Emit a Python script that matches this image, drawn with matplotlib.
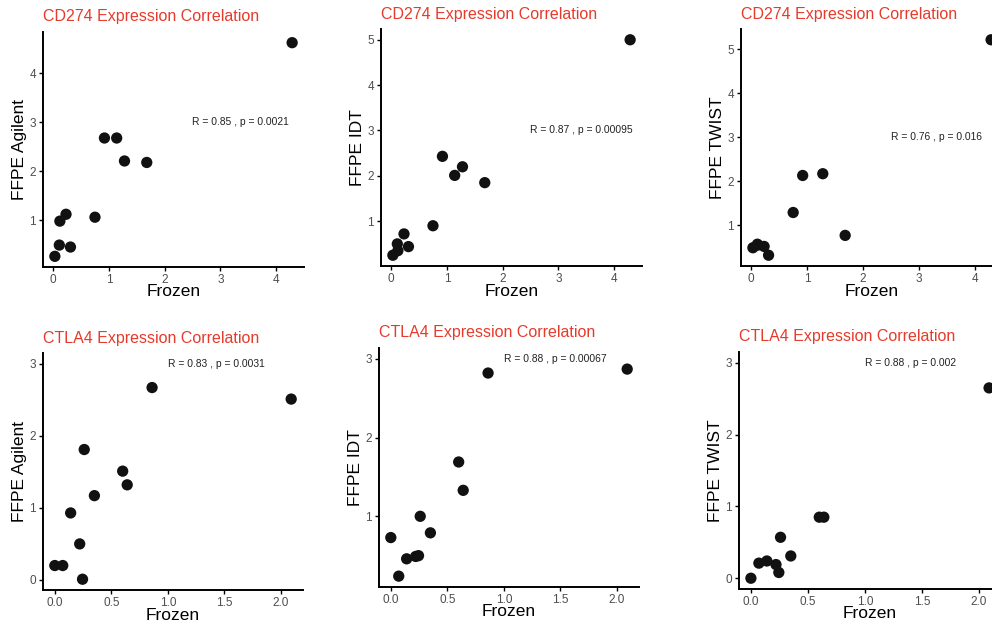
import numpy as np
import matplotlib
matplotlib.use("Agg")
import matplotlib.pyplot as plt

plt.rcParams['font.family'] = ['Liberation Sans', 'DejaVu Sans']

# CD274 frozen vs FFPE platforms
cd274_frozen = [0.03, 0.11, 0.12, 0.23, 0.31, 0.75, 0.92, 1.14, 1.28, 1.68, 4.29]
cd274_agilent = [0.26, 0.49, 0.98, 1.12, 0.45, 1.06, 2.68, 2.68, 2.21, 2.18, 4.63]
cd274_idt = [0.25, 0.50, 0.35, 0.72, 0.44, 0.90, 2.43, 2.01, 2.20, 1.85, 5.00]
# no TWIST value for the sample at frozen 1.14
cd274_twist_frozen = [0.03, 0.11, 0.12, 0.23, 0.31, 0.75, 0.92, 1.28, 1.68, 4.29]
cd274_twist = [0.49, 0.57, 0.55, 0.52, 0.32, 1.29, 2.13, 2.17, 0.77, 5.21]

# CTLA4 frozen vs FFPE platforms
ctla4_frozen = [0.00, 0.07, 0.14, 0.22, 0.245, 0.26, 0.35, 0.60, 0.64, 0.86, 2.09]
ctla4_agilent = [0.20, 0.20, 0.93, 0.50, 0.01, 1.81, 1.17, 1.51, 1.32, 2.67, 2.51]
ctla4_idt = [0.73, 0.24, 0.46, 0.49, 0.50, 1.00, 0.79, 1.69, 1.33, 2.82, 2.87]
# no TWIST value for the sample at frozen 0.86
ctla4_twist_frozen = [0.00, 0.07, 0.14, 0.22, 0.245, 0.26, 0.35, 0.60, 0.64, 2.09]
ctla4_twist = [0.00, 0.21, 0.24, 0.19, 0.08, 0.57, 0.31, 0.85, 0.85, 2.65]

cor_labels = [
    "R = 0.85 , p = 0.0021", "R = 0.87 , p = 0.00095", "R = 0.76 , p = 0.016",
    "R = 0.83 , p = 0.0031", "R = 0.88 , p = 0.00067", "R = 0.88 , p = 0.002",
]

TITLE_RED = '#E53B2C'
TICK_GREY = '#4D4D4D'
W, H = 992, 626

panels = [
    # (x, y, title, ylabel, label pos, axes box in px: left, top, right, bottom)
    (cd274_frozen, cd274_agilent, "CD274 Expression Correlation", "FFPE Agilent", (2.5, 3), (43, 32, 304, 267)),
    (cd274_frozen, cd274_idt, "CD274 Expression Correlation", "FFPE IDT", (2.5, 3), (381, 29, 642, 266)),
    (cd274_twist_frozen, cd274_twist, "CD274 Expression Correlation", "FFPE TWIST", (2.5, 3), (741, 29, 1003, 266)),
    (ctla4_frozen, ctla4_agilent, "CTLA4 Expression Correlation", "FFPE Agilent", (1.0, 3), (43, 353, 303, 590)),
    (ctla4_frozen, ctla4_idt, "CTLA4 Expression Correlation", "FFPE IDT", (1.0, 3), (379, 348, 639, 587)),
    (ctla4_twist_frozen, ctla4_twist, "CTLA4 Expression Correlation", "FFPE TWIST", (1.0, 3), (739, 352, 1001, 589)),
]


def expanded(vals, extra):
    """ ggplot-style 5% padding around data plus label position. """
    lo = min(min(vals), extra)
    hi = max(max(vals), extra)
    pad = (hi - lo) * 0.05
    return lo - pad, hi + pad


fig = plt.figure(figsize=(W / 100, H / 100), dpi=100)

for (xs, ys, title, ylab, (lx, ly), (l, t, r, b)), label in zip(panels, cor_labels):
    ax = fig.add_axes([l / W, 1 - b / H, (r - l) / W, (b - t) / H])
    ax.scatter(xs, ys, s=66, color='#111111', edgecolors='none', zorder=3, clip_on=False)
    ax.text(lx, ly, label, ha='left', va='center', fontsize=7.4, color='#222222')

    ax.set_xlim(*expanded(xs, lx))
    ax.set_ylim(*expanded(ys, ly))

    if max(xs) > 3:
        ax.set_xticks([0, 1, 2, 3, 4])
    else:
        ax.set_xticks([0.0, 0.5, 1.0, 1.5, 2.0])
        ax.set_xticklabels(['0.0', '0.5', '1.0', '1.5', '2.0'])
    ymax = ax.get_ylim()[1]
    ax.set_yticks([v for v in range(0, 6) if ax.get_ylim()[0] <= v <= ymax])

    for side in ['top', 'right']:
        ax.spines[side].set_visible(False)
    for side in ['left', 'bottom']:
        ax.spines[side].set_linewidth(1.4)
        ax.spines[side].set_color('black')
    ax.tick_params(axis='both', length=3, width=1, colors='black', labelcolor=TICK_GREY,
                   labelsize=8.5, pad=2)

    ax.annotate(title, xy=(0, 1), xycoords='axes fraction', xytext=(0, 15),
                textcoords='offset pixels', ha='left', va='center',
                fontsize=11.5, color=TITLE_RED)
    ax.annotate("Frozen", xy=(0.5, 0), xycoords='axes fraction', xytext=(0, -25),
                textcoords='offset pixels', ha='center', va='center', fontsize=12.5)
    ax.annotate(ylab, xy=(0, 0.5), xycoords='axes fraction', xytext=(-23, 0),
                textcoords='offset pixels', ha='center', va='center', rotation=90,
                fontsize=12.5)

fig.savefig('out.png', dpi=100, facecolor='white')
plt.close(fig)
